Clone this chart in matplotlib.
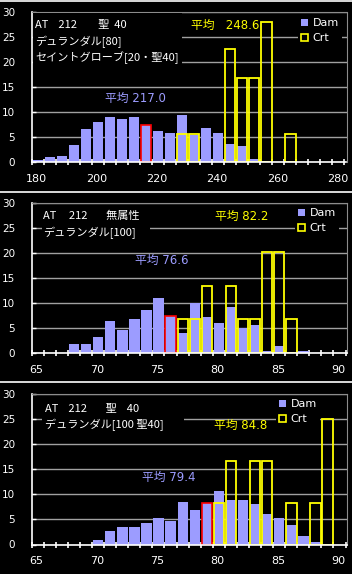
import numpy as np
import matplotlib
matplotlib.use('Agg')
import matplotlib.pyplot as plt
import matplotlib.transforms as mtransforms
from matplotlib.patches import Patch, Rectangle

plt.rcParams['font.family'] = ['Noto Sans CJK JP', 'DejaVu Sans']
MIXED = ['DejaVu Sans', 'Noto Sans CJK JP']

W, H = 352, 574
DAM = '#9c9cff'
YEL = '#ffff00'
GRID = '#a0a0a0'

# panel 1: AT212 聖40, bins of 4 from 180
p1_start, p1_width = 180, 4
p1_dam = [0.47, 1.13, 1.33, 3.33, 6.53, 8.07, 8.93, 8.53, 8.93, 7.4, 6.2,
          5.87, 9.47, 5.4, 6.87, 5.87, 3.67, 3.27, 0.67, 0, 0, 0]
p1_crt = [0, 0, 0, 0, 0, 0, 0, 0, 0, 0, 0,
          0, 5.6, 5.6, 0, 0, 22.47, 16.8, 16.8, 28.0, 0, 5.67]
p1_mean_dam, p1_mean_crt = 217.0, 248.6
p1_lines = ['AT    212\u3000    聖  40', 'デュランダル[80]', 'セイントグローブ[20・聖40]']

# panel 2: 無属性, bins of 1 from 65
p2_start, p2_width = 65, 1
p2_dam = [0, 0, 0, 1.92, 1.92, 3.3, 6.4, 4.6, 6.9, 8.6, 11.0, 7.4, 4.0,
          9.95, 7.2, 6.0, 9.2, 5.0, 5.6, 0.46, 1.46, 0, 0.46, 0, 0, 0]
p2_crt = [0, 0, 0, 0, 0, 0, 0, 0, 0, 0, 0, 0, 6.77,
          6.77, 13.3, 0, 13.3, 6.77, 6.77, 20.1, 20.1, 6.77, 0, 0, 0, 0]
p2_mean_dam, p2_mean_crt = 76.6, 82.2
p2_lines = ['AT     212\u3000   無属性', 'デュランダル[100]']

# panel 3: 聖40
p3_start, p3_width = 65, 1
p3_dam = [0, 0, 0, 0, 0, 0.8, 2.6, 3.47, 3.47, 4.2, 5.27, 4.67, 8.4,
          6.8, 8.33, 10.6, 8.8, 8.8, 8.0, 6.0, 5.2, 3.8, 1.6, 0.4, 0, 0]
p3_crt = [0, 0, 0, 0, 0, 0, 0, 0, 0, 0, 0, 0, 0,
          0, 0, 8.33, 16.7, 0, 16.7, 16.7, 0, 8.33, 0, 8.33, 25.1, 0]
p3_mean_dam, p3_mean_crt = 79.4, 84.8
p3_lines = ['AT    212\u3000   聖    40', 'デュランダル[100 聖40]']


def fx(x):
    return x / W


def fy(y):
    return 1 - y / H


fig = plt.figure(figsize=(W / 100, H / 100), dpi=100, facecolor='black')


def panel(top, start, width, dam, crt, mean_dam, mean_crt, xmax, xticks, labstep,
          lines, line_pos, box, dam_pos, crt_pos, crt_sep, leg_pos):
    ax = fig.add_axes([fx(31.7), fy(top + 150.5), 314.8 / W, 150.5 / H])
    ax.set_facecolor('black')
    edges = start + width * np.arange(len(dam))
    ax.bar(edges + 0.08 * width, dam, width=0.86 * width, align='edge',
           color=DAM, zorder=2)
    k = int((mean_dam - start) // width)
    ax.bar(edges[k] + 0.08 * width, dam[k], width=0.86 * width, align='edge',
           color=DAM, edgecolor='red', lw=1.2, zorder=2.2)
    crt = np.array(crt)
    m = crt > 0
    ax.bar(edges[m] + 0.08 * width, crt[m], width=0.86 * width, align='edge',
           fill=False, edgecolor=YEL, lw=1.3, zorder=2.5)
    ax.set_xlim(start, xmax)
    ax.set_ylim(0, 30)
    ax.set_yticks(range(0, 31, 5))
    ax.set_xticks(xticks)
    ax.set_xticklabels([str(t) if (t - start) % labstep == 0 else '' for t in xticks])
    ax.set_axisbelow(True)
    ax.yaxis.grid(True, color=GRID, lw=1)
    for s in ['top', 'right']:
        ax.spines[s].set_color('#8c8c8c')
    for s in ['left', 'bottom']:
        ax.spines[s].set_color('white')
        ax.spines[s].set_linewidth(1.2)
    ax.tick_params(axis='x', colors='white', direction='inout', length=5,
                   width=1.2, pad=6, labelsize=8)
    ax.tick_params(axis='y', colors='white', direction='in', length=3,
                   width=1, pad=12, labelsize=7.5)
    for lab in ax.yaxis.get_ticklabels():
        lab.set_family('DejaVu Sans')
    off = mtransforms.ScaledTranslation(5 / 100, 0, fig.dpi_scale_trans)
    for lab in ax.xaxis.get_ticklabels():
        lab.set_transform(lab.get_transform() + off)
        lab.set_family('DejaVu Sans')

    x0, y0, x1, y1 = box
    fig.add_artist(Rectangle((fx(x0), fy(y1)), (x1 - x0) / W, (y1 - y0) / H,
                             transform=fig.transFigure, facecolor='black',
                             edgecolor='none', zorder=2))
    for txt, (x, y) in zip(lines, line_pos):
        fig.text(fx(x), fy(y), txt, color='white', fontsize=8, va='center', zorder=4)
    fig.text(fx(dam_pos[0]), fy(dam_pos[1]), f'平均 {mean_dam:.1f}', color=DAM,
             fontsize=8.5, va='center', zorder=4, family=MIXED)
    fig.text(fx(crt_pos[0]), fy(crt_pos[1]), f'平均{crt_sep}{mean_crt:.1f}', color=YEL,
             fontsize=8.5, va='center', zorder=4, family=MIXED)

    handles = [Patch(facecolor=DAM, edgecolor='none'),
               Patch(facecolor='none', edgecolor=YEL, lw=1.2)]
    leg = ax.legend(handles, ['Dam', 'Crt'], loc='upper left',
                    bbox_to_anchor=(fx(leg_pos[0]), fy(leg_pos[1])),
                    bbox_transform=fig.transFigure, frameon=True, fancybox=False,
                    facecolor='black', edgecolor='none', framealpha=1,
                    fontsize=8, handlelength=0.6, handleheight=0.6,
                    handletextpad=0.4, labelspacing=0.45, borderpad=0.3,
                    borderaxespad=0)
    for t in leg.get_texts():
        t.set_color('white')
        t.set_family('DejaVu Sans')
    return ax


panel(11.7, p1_start, p1_width, p1_dam, p1_crt, p1_mean_dam, p1_mean_crt,
      284.7, list(range(180, 285, 4)), 20, p1_lines,
      [(35, 25), (35, 42), (35, 58)], (33, 13, 182, 66),
      (105, 98), (191, 25), '   ', (298, 15))

panel(202.7, p2_start, p2_width, p2_dam, p2_crt, p2_mean_dam, p2_mean_crt,
      91.08, list(range(65, 92)), 5, p2_lines,
      [(43, 216), (43, 233)], (42, 205, 150, 241),
      (135, 260), (215, 216), ' ', (295, 205))

panel(394, p3_start, p3_width, p3_dam, p3_crt, p3_mean_dam, p3_mean_crt,
      91.08, list(range(65, 92)), 5, p3_lines,
      [(45, 409), (45, 425)], (42, 396, 184, 432),
      (142, 477), (214, 425), ' ', (276, 396))

for y in [1, 191.5, 381.5]:
    fig.add_artist(plt.Line2D([0, 1], [fy(y), fy(y)], color='white', lw=1.2,
                              transform=fig.transFigure))

fig.savefig('out.png', dpi=100, facecolor='black')
